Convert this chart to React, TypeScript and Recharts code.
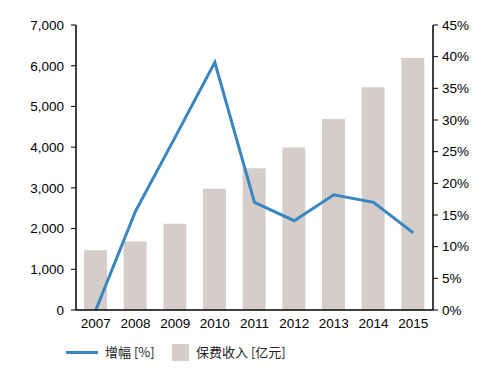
import React from "react";
import {
  ComposedChart,
  Bar,
  Line,
  XAxis,
  YAxis,
  Legend,
} from "recharts";

// 年份与数据
const years = ["2007", "2008", "2009", "2010", "2011", "2012", "2013", "2014", "2015"];
const premiumIncome = [1470, 1680, 2120, 2980, 3480, 3990, 4690, 5470, 6190];
const growthPct = [0, 15.6, 27.3, 39.1, 17.0, 14.1, 18.2, 17.0, 12.2];
const leftTicks = [0, 1000, 2000, 3000, 4000, 5000, 6000, 7000];
const rightTicks = [0, 5, 10, 15, 20, 25, 30, 35, 40, 45];

const data = years.map((year, i) => ({
  year,
  premium: premiumIncome[i],
  growth: growthPct[i],
}));

const FONT = "'Liberation Sans Narrow', 'Liberation Sans', Arial, sans-serif";
const CJK = "'Noto Sans CJK SC', 'Liberation Sans', sans-serif";
const LINE_COLOR = "#3a86c0";
const BAR_COLOR = "#d5cdc9";

const tickStyle = { fontSize: 13.5, fill: "#000", fontFamily: FONT };

function LegendContent() {
  return (
    <div style={{ height: 30, position: "relative", fontFamily: CJK, fontSize: 13, color: "#222" }}>
      <div style={{ position: "absolute", left: 66, top: 11, width: 32, height: 3, background: LINE_COLOR }} />
      <span style={{ position: "absolute", left: 105, top: 2, whiteSpace: "nowrap" }}>增幅 [%]</span>
      <div style={{ position: "absolute", left: 172, top: 4, width: 17, height: 17, background: BAR_COLOR }} />
      <span style={{ position: "absolute", left: 196, top: 2, whiteSpace: "nowrap" }}>保费收入 [亿元]</span>
    </div>
  );
}

export default function App() {
  return (
    <div style={{ position: "absolute", left: 0, top: 0, width: 496, height: 372, background: "#fff" }}>
      <ComposedChart
        width={496}
        height={372}
        data={data}
        margin={{ top: 25, right: 0, left: 0, bottom: 2 }}
      >
        <XAxis
          dataKey="year"
          tickLine={false}
          axisLine={{ stroke: "#000", strokeWidth: 1.5 }}
          tick={tickStyle}
          height={30}
          interval={0}
        />
        <YAxis
          yAxisId="left"
          domain={[0, 7000]}
          ticks={leftTicks}
          width={76}
          tickSize={5}
          tickMargin={7}
          tick={tickStyle}
          axisLine={{ stroke: "#000", strokeWidth: 1.5 }}
          tickLine={{ stroke: "#000" }}
          tickFormatter={(v) => v.toLocaleString("en-US")}
        />
        <YAxis
          yAxisId="right"
          orientation="right"
          domain={[0, 45]}
          ticks={rightTicks}
          width={63}
          tickSize={5}
          tickMargin={4}
          tick={tickStyle}
          axisLine={{ stroke: "#000", strokeWidth: 1.5 }}
          tickLine={{ stroke: "#000" }}
          tickFormatter={(v) => `${v}%`}
        />
        <Bar
          yAxisId="left"
          dataKey="premium"
          fill={BAR_COLOR}
          barSize={23}
          isAnimationActive={false}
        />
        <Line
          yAxisId="right"
          dataKey="growth"
          stroke={LINE_COLOR}
          strokeWidth={3}
          dot={false}
          type="linear"
          isAnimationActive={false}
        />
        <Legend verticalAlign="bottom" content={<LegendContent />} />
      </ComposedChart>
    </div>
  );
}
